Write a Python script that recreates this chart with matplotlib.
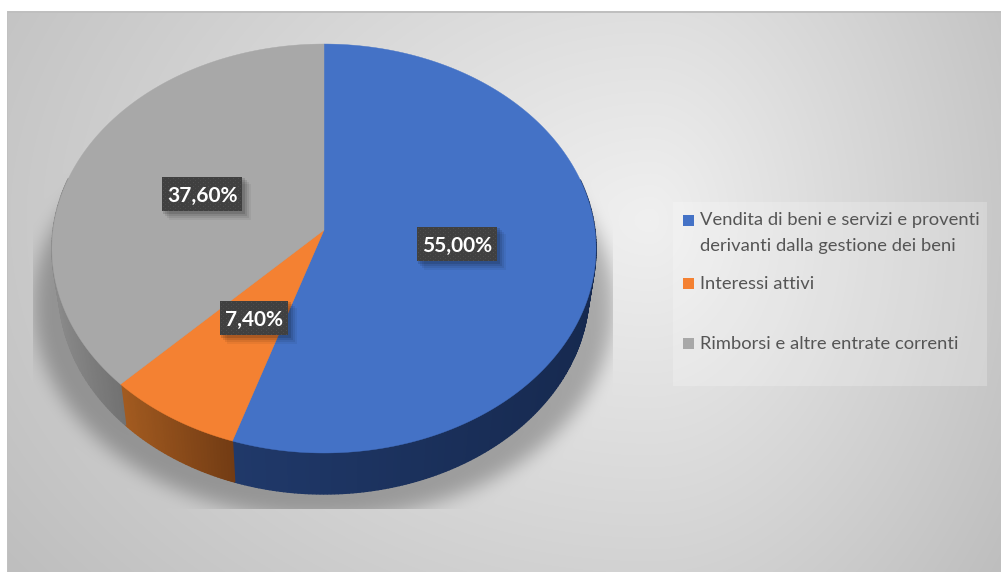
import numpy as np
import matplotlib
matplotlib.use("Agg")
import matplotlib.pyplot as plt
from matplotlib.patches import Rectangle

# --- DATA ---
categories = ["Vendita di beni e servizi e proventi\nderivanti dalla gestione dei beni",
              "Interessi attivi",
              "Rimborsi e altre entrate correnti"]
values = [55.0, 7.4, 37.6]
value_labels = ["55,00%", "7,40%", "37,60%"]

# --- STYLE / LAYOUT ---
W, H = 1001, 572
top_colors = ["#4472c6", "#f48132", "#a8a8a8"]
side_left = ["#20396a", "#a35b20", "#8a8a8a"]
side_right = ["#16294f", "#733c14", "#727272"]
label_centers = [(457, 244), (254, 318), (202, 194)]
legend_rows = [220, 283, 343]

# pie projection (perspective tilted disc, in pixels)
CX, APEX_Y = 324, 230
RX, RY, PERSP = 270.9, 202.8, 0.0905
DEPTH, BOTTOM_SCALE = 41, 0.975


def project(theta, bottom=False):
    """Clockwise angle from 12 o'clock -> pixel position on the pie rim."""
    u, v = np.sin(theta), np.cos(theta)
    x = CX + RX * u / (1 + PERSP * v)
    y = APEX_Y - RY * v / (1 + PERSP * v)
    if bottom:
        x = CX + (x - CX) * BOTTOM_SCALE
        y = y + DEPTH
    return x, y


def hex_rgb(c):
    return np.array(matplotlib.colors.to_rgb(c))


def box_blur(a, n):
    k = np.ones(n) / n
    a = np.apply_along_axis(lambda r: np.convolve(r, k, mode="same"), 0, a)
    a = np.apply_along_axis(lambda r: np.convolve(r, k, mode="same"), 1, a)
    return a


def make_background():
    yy, xx = np.mgrid[0:H, 0:W]
    dx = np.where(xx > 650, (xx - 650) / 350.0, (650 - xx) / 640.0)
    dy = (yy - 220) / 470.0
    v = 240 - 40 * np.sqrt(dx ** 2 + dy ** 2)

    # soft shadow under the pie, clipped by its own box
    m = np.zeros((H, W))
    m[((xx - 323) / 290.0) ** 2 + ((yy - 305) / 213.0) ** 2 < 1] = 1.0
    for _ in range(2):
        m = box_blur(m, 21)
    m[yy > 508] = 0
    m[xx < 33] = 0
    m[xx > 612] = 0
    v = v * (1 - 0.27 * m)

    v = np.clip(v, 0, 255) / 255.0
    img = np.dstack([v, v, v])
    img[:11, :] = 1.0
    img[:, :7] = 1.0
    img[11:13, 7:] = 0.75
    img[11:, 7:8] = 0.76
    return img


fig = plt.figure(figsize=(W / 100, H / 100), dpi=100)
ax = fig.add_axes([0, 0, 1, 1])
ax.imshow(make_background(), extent=(0, W, H, 0), aspect="auto", interpolation="bilinear", zorder=0)

# --- PIE ---
edges = np.cumsum([0] + values) / sum(values) * 2 * np.pi

# side walls first, as thin strips so the shading can change along the rim
for i in range(len(values)):
    n = max(int((edges[i + 1] - edges[i]) * 80), 2)
    th = np.linspace(edges[i], edges[i + 1], n + 1)
    front = th[np.cos(th) < 0.25]
    front_x = project(front)[0]
    lo, hi = front_x.min(), front_x.max()
    for a, b in zip(th[:-1], th[1:]):
        if np.cos(a) > 0.25 and np.cos(b) > 0.25:
            continue
        xt0, yt0 = project(a)
        xt1, yt1 = project(b)
        xb0, yb0 = project(a, True)
        xb1, yb1 = project(b, True)
        t = float(np.clip((xt0 - lo) / (hi - lo), 0, 1))
        col = (1 - t) * hex_rgb(side_left[i]) + t * hex_rgb(side_right[i])
        ax.fill([xt0, xt1, xb1, xb0], [yt0, yt1, yb1, yb0], color=col, lw=1.0, zorder=2)

# top surface
for i in range(len(values)):
    th = np.linspace(edges[i], edges[i + 1], 300)
    xs, ys = project(th)
    ax.fill(np.r_[CX, xs], np.r_[APEX_Y, ys], color=top_colors[i], lw=0.3, zorder=3)

# --- DATA LABELS ---
tile = np.full((8, 10), 0.25)
tile[1::4, 1::5] = 0.31
tile[3::4, 3::5] = 0.30
for (cx, cy), txt in zip(label_centers, value_labels):
    bw = 80 if len(txt) > 5 else 68
    bh = 34
    for off, al in [(9, 0.05), (7, 0.07), (5, 0.09), (3, 0.12)]:
        ax.add_patch(Rectangle((cx - bw / 2 + off - 2, cy - bh / 2 + off - 2), bw + 2, bh + 2,
                               fc="black", ec="none", alpha=al, zorder=4))
    rows = np.tile(tile, (bh // 8 + 1, bw // 10 + 1))[:bh, :bw]
    ax.imshow(rows, cmap="gray", vmin=0, vmax=1, extent=(cx - bw / 2, cx + bw / 2, cy + bh / 2, cy - bh / 2),
              aspect="auto", interpolation="nearest", zorder=5)
    ax.text(cx, cy + 2, txt, color="white", fontsize=15, fontweight="bold", family="Lato",
            ha="center", va="center", zorder=6)

# --- LEGEND ---
ax.add_patch(Rectangle((673, 202), 314, 184, fc="white", ec="none", alpha=0.22, zorder=1))
for col, txt, y in zip(top_colors, categories, legend_rows):
    ax.add_patch(Rectangle((683, y - 5.5), 11, 11.5, fc=col, ec="none", zorder=3))
    ax.text(700, y + 1 if "\n" not in txt else y + 13, txt, color="#555555", fontsize=13.2, family="Lato",
            ha="left", va="center", linespacing=1.75, zorder=3)

ax.set_xlim(0, W)
ax.set_ylim(H, 0)
ax.axis("off")
fig.savefig("out.png", dpi=100)
